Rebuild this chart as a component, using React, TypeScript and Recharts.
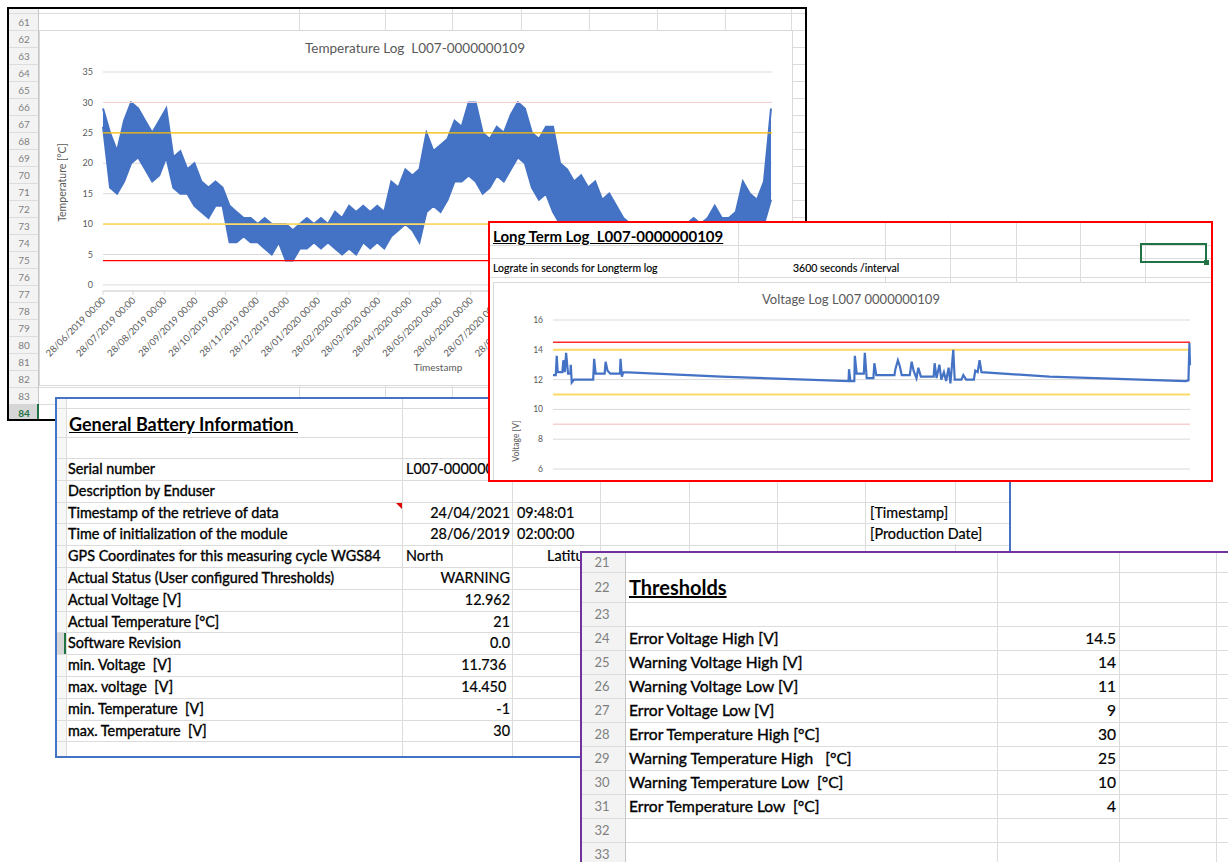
import React from 'react'
import {
  ComposedChart, LineChart, Line, Area, XAxis, YAxis, CartesianGrid, ReferenceLine,
} from 'recharts'

const FONT = 'Lato, "Noto Sans", Arial, sans-serif'
const INK = '#595959'
const GRID = '#D9D9D9'
const CELL = '#DCDCDC'
const SERIES = '#4472C4'

// monthly ticks of the temperature log
const tempTickLabels = [
  '28/06/2019 00:00', '28/07/2019 00:00', '28/08/2019 00:00', '28/09/2019 00:00',
  '28/10/2019 00:00', '28/11/2019 00:00', '28/12/2019 00:00', '28/01/2020 00:00',
  '28/02/2020 00:00', '28/03/2020 00:00', '28/04/2020 00:00', '28/05/2020 00:00',
  '28/06/2020 00:00', '28/07/2020 00:00', '28/08/2020 00:00', '28/09/2020 00:00',
  '28/10/2020 00:00', '28/11/2020 00:00', '28/12/2020 00:00', '28/01/2021 00:00',
  '28/02/2021 00:00', '28/03/2021 00:00',
]
const logStart = '28/06/2019'
const logEnd = '24/04/2021'

// weekly max / min of the hourly temperature log [°C]
const tempWeekHigh = [
  29, 25, 22, 27, 30, 29, 27, 25, 27, 29,
  21, 22, 19, 20, 17, 16, 17, 16, 13, 12,
  11, 11, 10, 11, 10, 10, 10, 9, 10, 11,
  10, 11, 10, 12, 11, 13, 12, 13, 12, 13,
  12, 17, 16, 19, 18, 19, 25, 22, 23, 24,
  27, 26, 30, 30, 25, 24, 26, 25, 28, 30,
  29, 25, 24, 26, 26, 20, 19, 17, 18, 16,
  17, 14, 15, 13, 11, 10, 10, 9, 10, 9,
  10, 9, 10, 10, 11, 10, 11, 13, 11, 11,
  12, 17, 15, 14, 17, 29,
]
const tempWeekLow = [
  26, 16, 15, 17, 20, 21, 19, 17, 18, 21,
  16, 15, 15, 13, 12, 11, 13, 13, 7, 7,
  8, 7, 7, 6, 5, 7, 4, 4, 6, 6,
  7, 6, 7, 6, 5, 6, 5, 7, 6, 7,
  6, 8, 9, 10, 9, 7, 12, 13, 12, 14,
  17, 17, 18, 17, 15, 16, 18, 17, 19, 21,
  20, 16, 14, 15, 12, 10, 10, 9, 9, 8,
  8, 7, 7, 6, 6, 5, 5, 4, 5, 4,
  -1, 4, 5, 5, 6, 5, 6, 6, 6, 7,
  7, 8, 8, 9, 10, 14,
]

// voltage log: days since 28/06/2019 and volts
const voltDays = [
  0, 2.9, 3.9, 4.9, 9.8, 10.8, 12.3, 13.7, 15.7, 18.1, 18.6, 19.6, 22, 42, 43,
  44.6, 54, 55, 57, 60, 70, 70.6, 72, 73.5, 176, 309, 309.5, 311, 315, 315.6,
  317.5, 325, 326, 328, 335, 336, 338, 357, 358, 360.6, 362.6, 364.6, 373, 375, 377,
  380, 382, 384.6, 398, 399, 401, 404, 406, 408.7, 411, 413.6, 415.5, 418.5, 420, 427,
  429, 432, 440, 441.5, 444, 446, 448, 519, 661.5, 664.4, 665.4, 666,
]
const voltValues = [
  12.3, 12.3, 13.6, 12.5, 12.5, 13.3, 12.5, 13.8, 12.4, 12.4, 13.0, 11.8, 12.0, 12.0, 13.4,
  12.4, 12.4, 13.2, 12.6, 12.4, 12.4, 13.4, 12.2, 12.5, 12.2, 11.9, 12.7, 11.9, 11.9, 13.6,
  12.4, 12.4, 13.8, 12.1, 12.1, 13.1, 12.3, 12.3, 12.7, 13.3, 12.9, 12.3, 12.3, 13.2, 12.6,
  12.1, 12.8, 12.2, 12.2, 13.1, 12.1, 13.0, 12.0, 12.5, 11.9, 12.8, 11.74, 14.0, 12.0, 12.0,
  12.3, 12.0, 12.0, 12.6, 12.5, 13.3, 12.5, 12.2, 11.9, 11.95, 14.45, 12.96,
]

const tempTicks = [0, 5, 10, 15, 20, 25, 30, 35]
const voltTicks = [6, 8, 10, 12, 14, 16]

const thresholdLabels = [
  'Error Voltage High [V]', 'Warning Voltage High [V]', 'Warning Voltage Low [V]', 'Error Voltage Low [V]',
  'Error Temperature High [°C]', 'Warning Temperature High   [°C]', 'Warning Temperature Low  [°C]',
  'Error Temperature Low  [°C]',
]
const thresholdValues = [14.5, 14, 11, 9, 30, 25, 10, 4]
const voltLineStyle = [
  { stroke: '#FF2B2B', w: 1.5 }, { stroke: '#FFD966', w: 2 }, { stroke: '#FFD966', w: 2 }, { stroke: '#F9D0D0', w: 1.5 },
]
const tempLineStyle = [
  { stroke: '#F8D0D0', w: 1 }, { stroke: '#FFC000', w: 1.3 }, { stroke: '#FFD966', w: 1.6 }, { stroke: '#FF0000', w: 1.1 },
]

const batteryLabels = [
  'Serial number', 'Description by Enduser', 'Timestamp of the retrieve of data',
  'Time of initialization of the module', 'GPS Coordinates for this measuring cycle WGS84',
  'Actual Status (User configured Thresholds)', 'Actual Voltage [V]', 'Actual Temperature [°C]',
  'Software Revision', 'min. Voltage  [V]', 'max. voltage  [V]', 'min. Temperature  [V]', 'max. Temperature  [V]',
]
const batteryValues = [
  'L007-0000000109', '', '24/04/2021', '28/06/2019', 'North', 'WARNING', '12.962', '21', '0.0',
  '11.736 ', '14.450 ', '-1', '30',
]
// the GPS latitude cell is hidden behind the thresholds sheet after "Latitu"
const batteryTimes = ['', '', '09:48:01', '02:00:00', 'Latitu', '', '', '', '', '', '', '', '']
const batteryNotes = ['', '', '[Timestamp]', '[Production Date]', '', '', '', '', '', '', '', '', '']

const dayOf = (s: string) => {
  const [d, m, y] = s.slice(0, 10).split('/').map(Number)
  const [d0, m0, y0] = logStart.split('/').map(Number)
  return Math.round((Date.UTC(y, m - 1, d) - Date.UTC(y0, m0 - 1, d0)) / 86400000)
}
const tempTickDays = tempTickLabels.map(dayOf)
const endDay = dayOf(logEnd)
const tempData = tempWeekHigh.map((hi, i) => ({ day: i * 7, range: [tempWeekLow[i], hi] }))
const voltData = voltDays.map((d, i) => ({ day: d, v: voltValues[i] }))

function DateTick({ x, y, payload }: any) {
  const i = tempTickDays.indexOf(payload.value)
  const ax = x + 3
  const ay = y + 6
  return (
    <text x={ax} y={ay} transform={`rotate(-45 ${ax} ${ay})`} textAnchor="end"
      fontSize={9.5} fill={INK} fontFamily={FONT}>{tempTickLabels[i]}</text>
  )
}

function Panel({ box, color, z, children }: any) {
  const [l, t, w, h] = box
  return (
    <div style={{
      position: 'absolute', left: l, top: t, width: w, height: h, border: `2px solid ${color}`,
      boxSizing: 'border-box', overflow: 'hidden', background: '#fff', zIndex: z,
    }}>
      <div style={{ position: 'absolute', left: -l - 2, top: -t - 2 }}>{children}</div>
    </div>
  )
}

const HL = ({ x1, x2, y, c = CELL }: any) => (
  <div style={{ position: 'absolute', left: x1, top: y, width: x2 - x1, height: 1, background: c }} />
)
const VL = ({ x, y1, y2, c = CELL, w = 1 }: any) => (
  <div style={{ position: 'absolute', left: x, top: y1, width: w, height: y2 - y1, background: c }} />
)
const Box = ({ x, y, w, h, bg, border }: any) => (
  <div style={{ position: 'absolute', left: x, top: y, width: w, height: h, background: bg, border, boxSizing: 'border-box' }} />
)

function Txt({ x, y, size = 14, weight = 400, color = '#000', align = 'left', under = false, bg, rotate, heavy, span = 250, children }: any) {
  const h = Math.round(size * 1.4)
  const style: React.CSSProperties = {
    position: 'absolute', top: y - h / 2, height: h, lineHeight: `${h}px`, fontSize: size,
    fontWeight: weight, color, fontFamily: FONT, whiteSpace: 'pre',
    textDecoration: under ? 'underline' : 'none', background: bg,
  }
  if (heavy) style.WebkitTextStroke = `${heavy}px ${color}`
  if (align === 'right') Object.assign(style, { left: x - span, width: span, textAlign: 'right' })
  else if (align === 'center') Object.assign(style, { left: x - span, width: span * 2, textAlign: 'center' })
  else style.left = x
  if (rotate) style.transform = `rotate(${rotate}deg)`
  return <div style={style}>{children}</div>
}

function TemperatureChart() {
  return (
    <ComposedChart width={754} height={356} data={tempData}
      margin={{ top: 42, right: 21, bottom: 25, left: 24 }}>
      <CartesianGrid vertical={false} stroke={GRID} />
      <XAxis dataKey="day" type="number" domain={[0, endDay]} ticks={tempTickDays} interval={0}
        tick={<DateTick />} tickSize={4} tickMargin={0} height={70} stroke={GRID} />
      <YAxis domain={[0, 35]} ticks={tempTicks} width={40} axisLine={false} tickLine={false}
        tickMargin={4} tick={{ fontSize: 9, fill: INK, fontFamily: FONT }} />
      <Area dataKey="range" type="linear" stroke={SERIES} strokeWidth={2} strokeLinejoin="miter"
        fill={SERIES} fillOpacity={1} dot={false} activeDot={false} isAnimationActive={false} />
      {thresholdValues.slice(4).map((v, i) => (
        <ReferenceLine key={i} y={v} stroke={tempLineStyle[i].stroke} strokeWidth={tempLineStyle[i].w} />
      ))}
    </ComposedChart>
  )
}

function VoltageChart() {
  return (
    <LineChart width={719} height={200} data={voltData}
      margin={{ top: 38, right: 22, bottom: 13, left: 25 }}>
      <CartesianGrid vertical={false} stroke={GRID} />
      <XAxis dataKey="day" type="number" domain={[0, endDay]} hide />
      <YAxis domain={[6, 16]} ticks={voltTicks} width={35} axisLine={false} tickLine={false}
        tickMargin={4} tick={{ fontSize: 8.5, fill: INK, fontFamily: FONT }} />
      {thresholdValues.slice(0, 4).map((v, i) => (
        <ReferenceLine key={i} y={v} stroke={voltLineStyle[i].stroke} strokeWidth={voltLineStyle[i].w} />
      ))}
      <Line dataKey="v" type="linear" stroke={SERIES} strokeWidth={2.2} dot={false} activeDot={false}
        isAnimationActive={false} />
    </LineChart>
  )
}

const sheetRows = Array.from({ length: 24 }, (_, i) => 61 + i)
const sheetCols = [299, 385, 452, 521, 589, 657, 725, 791]
const infoCols = [66, 402, 512, 600, 689, 777, 865, 955]
const infoRowTop = 458
const infoRowH = 21.8
const thrRows = [21, 22, 23, 24, 25, 26, 27, 28, 29, 30, 31, 32, 33]
const thrLines = [572, 602, 626, 650, 674, 698, 722, 746, 770, 794, 818, 842, 866]
const thrCenters = [562, 587, 614, 638, 662, 686, 710, 734, 758, 782, 806, 830, 854]

export default function App() {
  return (
    <div style={{ position: 'absolute', left: 0, top: 0, width: 1228, height: 862, overflow: 'hidden', background: '#fff', fontFamily: FONT }}>
      {/* temperature sheet */}
      <Panel box={[7, 7, 800, 414]} color="#000" z={1}>
        <Box x={9} y={9} w={29} h={412} bg="#F3F3F3" />
        {sheetRows.map((n, i) => <HL key={n} x1={9} x2={807} y={13 + i * 17} />)}
        {sheetCols.map(x => <VL key={x} x={x} y1={9} y2={421} />)}
        <VL x={38} y1={9} y2={421} c="#C6C6C6" />
        <Box x={9} y={404} w={29} h={17} bg="#D6D6D6" />
        <VL x={37} y1={404} y2={421} c="#217346" w={2} />
        {sheetRows.map((n, i) => (
          <Txt key={n} x={24} y={21.5 + i * 17} size={10} align="center" span={13}
            color={n === 84 ? '#217346' : '#7F7F7F'} weight={n === 84 ? 700 : 400}>{n}</Txt>
        ))}
        <Box x={39} y={30} w={754} h={356} bg="#fff" border="1px solid #D9D9D9" />
        <div style={{ position: 'absolute', left: 39, top: 30 }}>
          <TemperatureChart />
        </div>
        <Txt x={415} y={48} size={13.5} color={INK} align="center" span={160}>Temperature Log  L007-0000000109</Txt>
        <Txt x={62} y={182} size={10.5} color={INK} align="center" span={60} rotate={-90}>Temperature [°C]</Txt>
        <Txt x={438} y={367} size={10} color={INK} align="center" span={40}>Timestamp</Txt>
      </Panel>

      {/* general battery information */}
      <Panel box={[55, 397, 956, 361]} color="#4472C4" z={2}>
        <Box x={57} y={399} w={9} h={360} bg="#F7F7F7" />
        <Box x={57} y={infoRowTop + 8 * infoRowH} w={9} h={infoRowH} bg="#D6D6D6" />
        <VL x={64} y1={infoRowTop + 8 * infoRowH} y2={infoRowTop + 9 * infoRowH} c="#217346" w={2} />
        {[408, 437].map(y => <HL key={y} x1={57} x2={1010} y={y} />)}
        {Array.from({ length: 14 }, (_, i) => (
          <HL key={i} x1={57} x2={1010} y={infoRowTop + i * infoRowH} />
        ))}
        {infoCols.map(x => <VL key={x} x={x} y1={399} y2={757} />)}
        <Box x={67} y={409} w={334} h={27} bg="#fff" />
        <Txt x={69} y={424} size={18} weight={700} under>General Battery Information </Txt>
        <div style={{
          position: 'absolute', left: 396, top: infoRowTop + 2 * infoRowH + 1, width: 0, height: 0,
          borderTop: '6px solid #E00000', borderLeft: '6px solid transparent',
        }} />
        {batteryLabels.map((label, i) => {
          const cy = infoRowTop + (i + 0.5) * infoRowH
          const v = batteryValues[i]
          const leftAligned = i === 0 || i === 4
          const t = batteryTimes[i]
          return (
            <React.Fragment key={label}>
              <Txt x={68} y={cy} size={14.4} heavy={0.35}>{label}</Txt>
              {v && (leftAligned
                ? <Txt x={406} y={cy} size={14.4} bg="#fff" heavy={0.2}>{v}</Txt>
                : <Txt x={510} y={cy} size={14.4} align="right" span={100} heavy={0.2}>{v}</Txt>)}
              {t && <Txt x={i === 4 ? 547 : 517} y={cy} size={14.4} heavy={0.2}>{t}</Txt>}
              {batteryNotes[i] && <Txt x={870} y={cy} size={14.4} bg="#fff" heavy={0.2}>{batteryNotes[i]}</Txt>}
            </React.Fragment>
          )
        })}
      </Panel>

      {/* long term log */}
      <Panel box={[488, 221, 725, 261]} color="#FF0000" z={3}>
        {[245, 258, 277].map(y => <HL key={y} x1={490} x2={1212} y={y} />)}
        {[738, 885, 950, 1016, 1080, 1145].map(x => <VL key={x} x={x} y1={223} y2={282} />)}
        <Box x={491} y={224} w={246} h={20} bg="#fff" />
        <Txt x={493} y={236} size={15} weight={700} under>Long Term Log  L007-0000000109</Txt>
        <Txt x={493} y={268} size={10.5} heavy={0.15}>Lograte in seconds for Longterm log</Txt>
        <Txt x={793} y={268} size={10.5} bg="#fff" heavy={0.15}>3600 seconds /interval</Txt>
        <Box x={1140} y={243} w={67} h={20} border="2px solid #217346" />
        <Box x={1204} y={260} w={5} h={5} bg="#217346" />
        <Box x={493} y={282} w={722} h={202} bg="#fff" border="1px solid #D9D9D9" />
        <div style={{ position: 'absolute', left: 493, top: 282 }}>
          <VoltageChart />
        </div>
        <Txt x={851} y={299} size={13} color={INK} align="center" span={120}>Voltage Log L007 0000000109</Txt>
        <Txt x={516} y={441} size={8.5} color={INK} align="center" span={30} rotate={-90}>Voltage [V]</Txt>
      </Panel>

      {/* thresholds */}
      <Panel box={[580, 551, 660, 330]} color="#7030A0" z={4}>
        <Box x={582} y={553} w={43} h={330} bg="#F3F3F3" />
        {thrLines.map(y => <HL key={y} x1={582} x2={1240} y={y} />)}
        {[997, 1119, 1216].map(x => <VL key={x} x={x} y1={553} y2={880} />)}
        <VL x={625} y1={553} y2={880} c="#C6C6C6" />
        {thrRows.map((n, i) => (
          <Txt key={n} x={602} y={thrCenters[i]} size={13} color="#7F7F7F" align="center" span={18}>{n}</Txt>
        ))}
        <Txt x={629} y={587} size={20} weight={700} under>Thresholds</Txt>
        {thresholdLabels.map((label, i) => (
          <React.Fragment key={label}>
            <Txt x={629} y={thrCenters[i + 3]} size={15.6} heavy={0.35}>{label}</Txt>
            <Txt x={1116} y={thrCenters[i + 3]} size={15.6} align="right" span={100} heavy={0.2}>{thresholdValues[i]}</Txt>
          </React.Fragment>
        ))}
      </Panel>
    </div>
  )
}
